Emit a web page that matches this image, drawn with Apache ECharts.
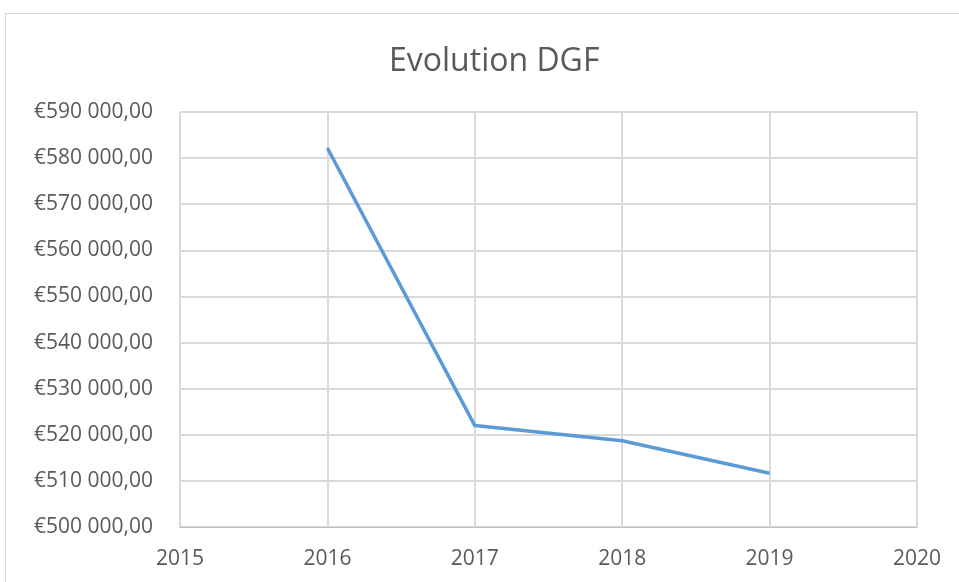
<!DOCTYPE html>
<html>
<head>
<meta charset="utf-8">
<script src="https://cdn.jsdelivr.net/npm/echarts@6/dist/echarts.min.js"></script>
<style>
    html, body { margin: 0; padding: 0; background: #fff; overflow: hidden; }
    #frame { position: absolute; left: 5px; top: 13px; width: 1000px; height: 620px; border: 1px solid #d9d9d9; }
    #chart { position: absolute; left: 0; top: 0; width: 959px; height: 582px; }
</style>
</head>
<body>
<div id="frame"></div>
<div id="chart"></div>
<script>
// données
var years = [2016, 2017, 2018, 2019];
var dgf = [582200, 522000, 518700, 511650];
var yMin = 500000, yMax = 590000, yStep = 10000;
var xMin = 2015, xMax = 2020;

function euro (v) {
    var s = String(Math.round(v)).replace(/\B(?=(\d{3})+(?!\d))/g, ' ');
    return '€' + s + ',00';
}

var points = [];
for (var i = 0; i < years.length; i++) {
    points.push([years[i], dgf[i]]);
}

var myChart = echarts.init(document.getElementById('chart'));
var option = {
    animation: false,
    title: {
        text: 'Evolution DGF',
        left: 384,
        top: 41,
        textStyle: {
            fontFamily: 'Open Sans',
            fontSize: 32,
            fontWeight: 'normal',
            color: '#595959'
        }
    },
    grid: {
        left: 180,
        right: 42,
        top: 112,
        bottom: 55
    },
    xAxis: {
        type: 'value',
        min: xMin,
        max: xMax,
        interval: 1,
        axisLine: { lineStyle: { color: '#bfbfbf', width: 1 } },
        axisTick: { show: false },
        splitLine: { show: true, lineStyle: { color: '#d9d9d9', width: 2 } },
        axisLabel: {
            margin: 22,
            color: '#595959',
            fontFamily: 'Open Sans',
            fontSize: 21,
            formatter: function (v) { return String(v); }
        }
    },
    yAxis: {
        type: 'value',
        min: yMin,
        max: yMax,
        interval: yStep,
        axisLine: { show: false },
        axisTick: { show: false },
        splitLine: { show: true, lineStyle: { color: '#d9d9d9', width: 2 } },
        axisLabel: {
            margin: 27,
            color: '#595959',
            fontFamily: 'Open Sans',
            fontSize: 21,
            formatter: euro
        }
    },
    series: [{
        type: 'line',
        data: points,
        symbol: 'none',
        lineStyle: { color: '#5b9bd5', width: 3.5 }
    }]
};
myChart.setOption(option);
</script>
</body>
</html>
